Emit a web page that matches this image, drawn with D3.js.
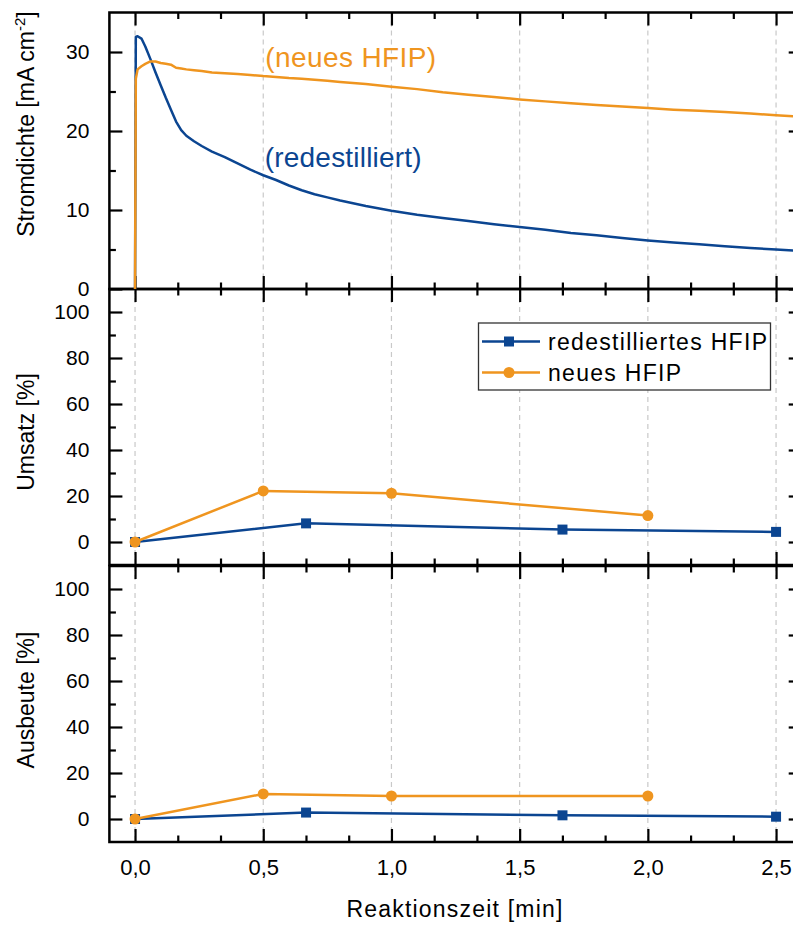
<!DOCTYPE html>
<html>
<head>
<meta charset="utf-8">
<script src="https://cdn.jsdelivr.net/npm/d3@7"></script>
<style>
  html, body { margin: 0; padding: 0; background: #fff; }
  svg { display: block; font-family: "Liberation Sans", Arial, sans-serif; }
</style>
</head>
<body>
<svg id="chart" width="793" height="927"></svg>
<script>
// Chronoamperometry (top) and sampled conversion / yield (middle, bottom)

// Time grid of the current-density traces [min]
const curveTime = [0, 0.003, 0.01, 0.025, 0.04, 0.06, 0.08, 0.10, 0.12, 0.14, 0.16, 0.18,
  0.20, 0.23, 0.26, 0.30, 0.35, 0.40, 0.45, 0.50, 0.55, 0.60, 0.65, 0.70, 0.75, 0.80,
  0.90, 1.00, 1.10, 1.20, 1.30, 1.40, 1.50, 1.60, 1.70, 1.80, 1.90, 2.00, 2.10, 2.20,
  2.30, 2.40, 2.50, 2.60];
// Current density, redistilled HFIP [mA cm-2]
const jRedest = [0, 31.9, 32.0, 31.7, 30.7, 29.1, 27.4, 25.8, 24.2, 22.7, 21.2, 20.1,
  19.4, 18.7, 18.1, 17.4, 16.7, 15.9, 15.1, 14.4, 13.8, 13.1, 12.5, 12.0, 11.6, 11.2,
  10.5, 9.9, 9.4, 9.0, 8.6, 8.2, 7.85, 7.5, 7.1, 6.8, 6.45, 6.15, 5.9, 5.65,
  5.4, 5.2, 5.0, 4.8];
// Current density, fresh HFIP [mA cm-2]
const jNeu = [0, 26.6, 27.8, 28.2, 28.5, 28.8, 28.8, 28.6, 28.5, 28.4, 28.0, 27.9,
  27.8, 27.7, 27.6, 27.4, 27.3, 27.2, 27.1, 26.95, 26.85, 26.7, 26.6, 26.5, 26.35, 26.2,
  25.95, 25.6, 25.3, 24.9, 24.6, 24.3, 24.0, 23.75, 23.5, 23.3, 23.1, 22.9, 22.7, 22.55,
  22.4, 22.2, 22.0, 21.8];

// Sampling times [min]
const sampleTimeRedest = [0, 0.667, 1.667, 2.5];
const sampleTimeNeu = [0, 0.5, 1.0, 2.0];
// Conversion [%]
const umsatzRedest = [0, 8.1, 5.4, 4.4];
const umsatzNeu = [0, 22.2, 21.2, 11.5];
// Yield [%]
const ausbeuteRedest = [0, 2.8, 1.6, 1.0];
const ausbeuteNeu = [0, 10.9, 10.0, 10.0];

// Axis ticks
const xMajorTicks = [0, 0.5, 1.0, 1.5, 2.0, 2.5];
const xMinorTicks = [1, 2, 4, 5, 7, 8, 10, 11, 13, 14].map(k => k / 6);
const jMajorTicks = [0, 10, 20, 30];
const jMinorTicks = [5, 15, 25];
const pctMajorTicks = [0, 20, 40, 60, 80, 100];
const pctMinorTicks = [-10, 10, 30, 50, 70, 90, 110];

const seriesNames = ["redestilliertes HFIP", "neues HFIP"];
const BLUE = "#0b4591";
const ORANGE = "#ef951f";

const de = d3.formatLocale({decimal: ",", thousands: ".", grouping: [3], currency: ["", " €"]});
const fmtX = de.format(".1f");

const svg = d3.select("#chart");
svg.append("rect").attr("width", 793).attr("height", 927).attr("fill", "#fff");

const x = d3.scaleLinear().domain([-0.1, 2.6]).range([109.4, 801.7]);

const panels = [
  {key: "j", domain: [0, 35], range: [289, 12.5], major: jMajorTicks, minor: jMinorTicks,
   title: "Stromdichte [mA cm", sup: "-2", titleEnd: "]", titleY: 124},
  {key: "u", domain: [-10, 110], range: [565, 289], major: pctMajorTicks, minor: pctMinorTicks,
   title: "Umsatz [%]", titleY: 432},
  {key: "a", domain: [-10, 110], range: [842, 566], major: pctMajorTicks, minor: pctMinorTicks,
   title: "Ausbeute [%]", titleY: 700}
];
panels.forEach(p => { p.y = d3.scaleLinear().domain(p.domain).range(p.range); });

const MAJ = 13, MIN = 6.5;
const x0 = x.range()[0], x1 = x.range()[1];

panels.forEach((p, i) => {
  const g = svg.append("g");
  const yTop = p.range[1], yBot = p.range[0];

  // dashed grid at the major time ticks
  g.append("g").selectAll("line").data(xMajorTicks).join("line")
    .attr("x1", d => x(d)).attr("x2", d => x(d))
    .attr("y1", yTop).attr("y2", yBot)
    .attr("stroke", "#c9c9c9").attr("stroke-width", 1.2).attr("stroke-dasharray", "5,4");

  // inward ticks on all four sides
  const addAxis = (axis, transform, labels) => {
    const a = g.append("g").attr("transform", transform).call(axis);
    a.select(".domain").remove();
    a.selectAll(".tick line").attr("stroke", "#000").attr("stroke-width", 2.2);
    if (!labels) a.selectAll(".tick text").remove();
    return a;
  };
  addAxis(d3.axisBottom(x).tickValues(xMajorTicks).tickSize(-MAJ).tickFormat(""), `translate(0,${yBot})`, false);
  addAxis(d3.axisBottom(x).tickValues(xMinorTicks).tickSize(-MIN).tickFormat(""), `translate(0,${yBot})`, false);
  addAxis(d3.axisTop(x).tickValues(xMajorTicks).tickSize(-MAJ).tickFormat(""), `translate(0,${yTop})`, false);
  addAxis(d3.axisTop(x).tickValues(xMinorTicks).tickSize(-MIN).tickFormat(""), `translate(0,${yTop})`, false);

  const yl = addAxis(d3.axisLeft(p.y).tickValues(p.major).tickSize(-MAJ).tickPadding(20).tickFormat(d3.format("d")),
    `translate(${x0},0)`, true);
  yl.selectAll(".tick text").attr("font-size", 21).attr("fill", "#000")
    .attr("font-family", "Liberation Sans, Arial, sans-serif");
  addAxis(d3.axisLeft(p.y).tickValues(p.minor.filter(v => v > p.domain[0] && v < p.domain[1])).tickSize(-MIN).tickFormat(""),
    `translate(${x0},0)`, false);
  addAxis(d3.axisRight(p.y).tickValues(p.major).tickSize(-MAJ).tickFormat(""), `translate(${x1},0)`, false);
  addAxis(d3.axisRight(p.y).tickValues(p.minor.filter(v => v > p.domain[0] && v < p.domain[1])).tickSize(-MIN).tickFormat(""),
    `translate(${x1},0)`, false);

  // frame
  g.append("rect").attr("x", x0).attr("y", yTop).attr("width", x1 - x0).attr("height", yBot - yTop)
    .attr("fill", "none").attr("stroke", "#000").attr("stroke-width", 2.5);

  // y title
  const t = svg.append("text")
    .attr("transform", `translate(34,${p.titleY}) rotate(-90)`)
    .attr("text-anchor", "middle").attr("font-size", 23).attr("fill", "#000")
    .text(p.title);
  if (p.sup) {
    t.append("tspan").attr("font-size", 15).attr("dy", -9).text(p.sup);
    t.append("tspan").attr("dy", 9).text(p.titleEnd);
  }
  p.g = g;
});

// bottom time axis labels
const xl = svg.append("g").attr("transform", `translate(0,${panels[2].range[0]})`)
  .call(d3.axisBottom(x).tickValues(xMajorTicks).tickSize(0).tickPadding(17).tickFormat(fmtX));
xl.select(".domain").remove();
xl.selectAll(".tick text").attr("font-size", 22).attr("fill", "#000")
  .attr("font-family", "Liberation Sans, Arial, sans-serif");

svg.append("text").attr("x", 455).attr("y", 917).attr("text-anchor", "middle")
  .attr("font-size", 23).attr("letter-spacing", 1.2).attr("fill", "#000").text("Reaktionszeit [min]");

// current-density traces
const pTop = panels[0];
const lineJ = vals => d3.line().x((d, i) => x(curveTime[i])).y(d => pTop.y(d))(vals);
svg.append("path").attr("d", lineJ(jRedest)).attr("fill", "none")
  .attr("stroke", BLUE).attr("stroke-width", 2.5).attr("stroke-linejoin", "round");
svg.append("path").attr("d", lineJ(jNeu)).attr("fill", "none")
  .attr("stroke", ORANGE).attr("stroke-width", 2.5).attr("stroke-linejoin", "round");

svg.append("text").attr("x", x(0.508)).attr("y", pTop.y(28.1)).attr("font-size", 28)
  .attr("letter-spacing", 0.4).attr("fill", ORANGE).text("(neues HFIP)");
svg.append("text").attr("x", x(0.506)).attr("y", pTop.y(15.5)).attr("font-size", 28)
  .attr("letter-spacing", 0.2).attr("fill", BLUE).text("(redestilliert)");

// sampled series
function drawSeries(p, times, vals, color, shape) {
  const pts = times.map((t, i) => [x(t), p.y(vals[i])]);
  svg.append("path").attr("d", d3.line()(pts)).attr("fill", "none")
    .attr("stroke", color).attr("stroke-width", 2.5);
  const sym = d3.symbol().type(shape === "square" ? d3.symbolSquare : d3.symbolCircle)
    .size(shape === "square" ? 100 : 95);
  svg.append("g").selectAll("path").data(pts).join("path")
    .attr("transform", d => `translate(${d[0]},${d[1]})`).attr("d", sym).attr("fill", color);
}
drawSeries(panels[1], sampleTimeRedest, umsatzRedest, BLUE, "square");
drawSeries(panels[1], sampleTimeNeu, umsatzNeu, ORANGE, "circle");
drawSeries(panels[2], sampleTimeRedest, ausbeuteRedest, BLUE, "square");
drawSeries(panels[2], sampleTimeNeu, ausbeuteNeu, ORANGE, "circle");

// legend
const lg = svg.append("g");
lg.append("rect").attr("x", 478.5).attr("y", 323).attr("width", 292).attr("height", 67)
  .attr("fill", "#fff").attr("stroke", "#333").attr("stroke-width", 1.3);
const legendRows = [
  {name: seriesNames[0], color: BLUE, shape: "square", y: 341.5},
  {name: seriesNames[1], color: ORANGE, shape: "circle", y: 372.5}
];
legendRows.forEach(r => {
  lg.append("line").attr("x1", 482).attr("x2", 540).attr("y1", r.y).attr("y2", r.y)
    .attr("stroke", r.color).attr("stroke-width", 2.5);
  lg.append("path").attr("transform", `translate(509,${r.y})`)
    .attr("d", d3.symbol().type(r.shape === "square" ? d3.symbolSquare : d3.symbolCircle)
      .size(r.shape === "square" ? 100 : 95)).attr("fill", r.color);
  lg.append("text").attr("x", 548).attr("y", r.y + 8).attr("font-size", 23)
    .attr("letter-spacing", 1.3).attr("fill", "#000").text(r.name);
});
</script>
</body>
</html>
